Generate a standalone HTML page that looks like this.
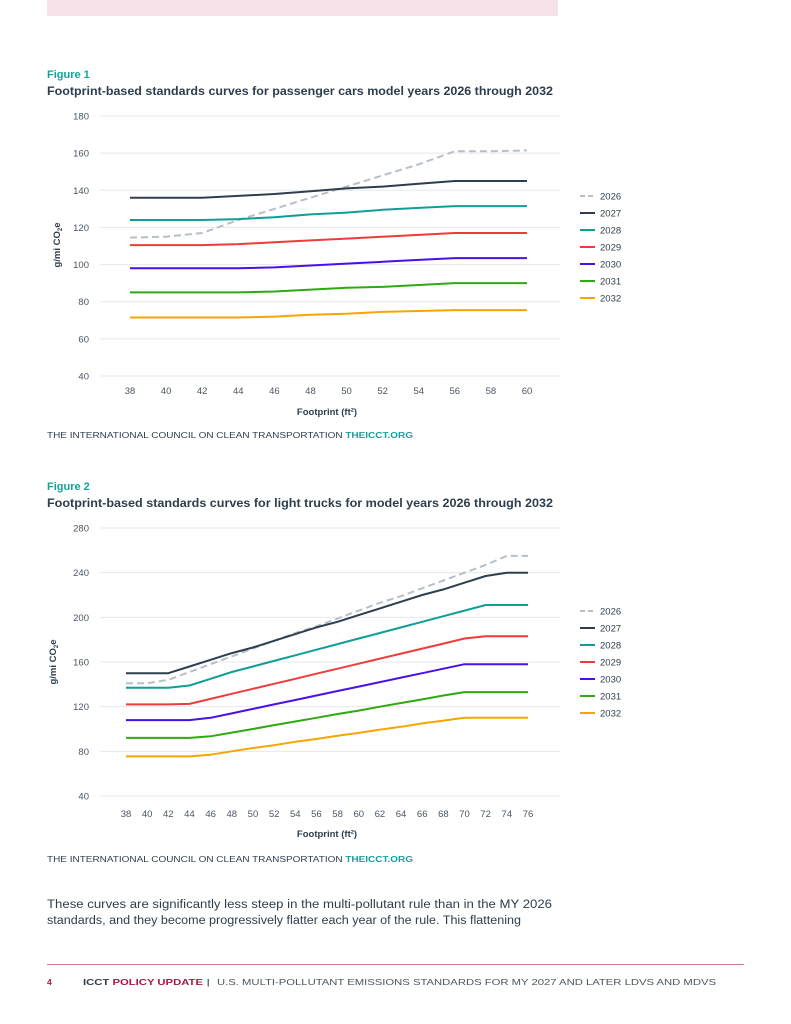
<!DOCTYPE html>
<html><head><meta charset="utf-8"><style>
body{margin:0;background:#fff;}
svg{display:block;font-family:"Liberation Sans",sans-serif;}
</style></head><body>
<svg id="page" width="791" height="1024" viewBox="0 0 791 1024" xmlns="http://www.w3.org/2000/svg">
<rect x="47" y="0" width="511" height="16" fill="#f6e2e9"/>
<text x="47" y="78" font-size="11" font-weight="bold" fill="#13a39b">Figure 1</text>
<text x="47" y="95" font-size="11.5" font-weight="bold" fill="#2e3e4e" textLength="506" lengthAdjust="spacingAndGlyphs">Footprint-based standards curves for passenger cars model years 2026 through 2032</text>
<g id="chart1"></g>
<text x="47" y="438" font-size="8" fill="#2e3e4e" textLength="366" lengthAdjust="spacingAndGlyphs">THE INTERNATIONAL COUNCIL ON CLEAN TRANSPORTATION <tspan font-weight="bold" fill="#13a39b">THEICCT.ORG</tspan></text>

<text x="47" y="490" font-size="11" font-weight="bold" fill="#13a39b">Figure 2</text>
<text x="47" y="507" font-size="11.5" font-weight="bold" fill="#2e3e4e" textLength="506" lengthAdjust="spacingAndGlyphs">Footprint-based standards curves for light trucks for model years 2026 through 2032</text>
<g id="chart2"></g>
<text x="47" y="862" font-size="8" fill="#2e3e4e" textLength="366" lengthAdjust="spacingAndGlyphs">THE INTERNATIONAL COUNCIL ON CLEAN TRANSPORTATION <tspan font-weight="bold" fill="#13a39b">THEICCT.ORG</tspan></text>

<text x="47" y="908" font-size="11.5" fill="#2e3e4e" textLength="505" lengthAdjust="spacingAndGlyphs">These curves are significantly less steep in the multi-pollutant rule than in the MY 2026</text>
<text x="47" y="924" font-size="11.5" fill="#2e3e4e" textLength="474" lengthAdjust="spacingAndGlyphs">standards, and they become progressively flatter each year of the rule. This flattening</text>
<line x1="47" y1="964.5" x2="744" y2="964.5" stroke="#d67a98" stroke-width="1"/>
<text x="47" y="985" font-size="8.5" font-weight="bold" fill="#a6193e">4</text>
<text x="83" y="985" font-size="8.5" font-weight="bold" fill="#2e3e4e" textLength="120" lengthAdjust="spacingAndGlyphs">ICCT <tspan fill="#a6193e">POLICY UPDATE</tspan></text>
<text x="207" y="985" font-size="8.5" font-weight="bold" fill="#2e3e4e">|</text>
<text x="217" y="985" font-size="8.5" fill="#4a5563" textLength="499" lengthAdjust="spacingAndGlyphs">U.S. MULTI-POLLUTANT EMISSIONS STANDARDS FOR MY 2027 AND LATER LDVS AND MDVS</text>
</svg>
<script>
const NS="http://www.w3.org/2000/svg";
const seriesNames=["2026","2027","2028","2029","2030","2031","2032"];
const seriesColors=["#b8bfc8","#2e3e4e","#0f9e96","#ef3b3b","#4a10e8","#2eaa10","#f7a500"];

const c1Footprints=[38,40,42,44,46,48,50,52,54,56,58,60];
const c1Y2026=[114.5,115,117,124,130,136,142,148,154,161,161,161.5];
const c1Y2027=[136,136,136,137,138,139.5,141,142,143.5,145,145,145];
const c1Y2028=[124,124,124,124.5,125.5,127,128,129.5,130.5,131.5,131.5,131.5];
const c1Y2029=[110.5,110.5,110.5,111,112,113,114,115,116,117,117,117];
const c1Y2030=[98,98,98,98,98.5,99.5,100.5,101.5,102.5,103.5,103.5,103.5];
const c1Y2031=[85,85,85,85,85.5,86.5,87.5,88,89,90,90,90];
const c1Y2032=[71.5,71.5,71.5,71.5,72,73,73.5,74.5,75,75.5,75.5,75.5];
const c1YTicks=[40,60,80,100,120,140,160,180];

const c2Footprints=[38,40,42,44,46,48,50,52,54,56,58,60,62,64,66,68,70,72,74,76];
const c2Y2026=[141,141,144,151,158,165,172,179,186,192,199,206,213,219,226,233,240,247,255,255];
const c2Y2027=[150,150,150,156,162,168,173,179,185,191,196,202,208,214,220,225,231,237,240,240];
const c2Y2028=[137,137,137,139,145,151,156,161,166,171,176,181,186,191,196,201,206,211,211,211];
const c2Y2029=[122,122,122,122.5,127,131.5,136,140.5,145,149.5,154,158.5,163,167.5,172,176.5,181,183,183,183];
const c2Y2030=[108,108,108,108,110,114,118,122,126,130,134,138,142,146,150,154,158,158,158,158];
const c2Y2031=[92,92,92,92,93.5,96.8,100,103.5,106.7,110,113.4,116.5,120,123.3,126.5,130,133,133,133,133];
const c2Y2032=[75.5,75.5,75.5,75.5,77,80,83,85.5,88.5,91,94,96.5,99.5,102,105,107.5,110,110,110,110];
const c2YTicks=[40,80,120,160,200,240,280];

function el(tag,attrs,parent){const e=document.createElementNS(NS,tag);for(const k in attrs)e.setAttribute(k,attrs[k]);parent.appendChild(e);return e;}

function drawChart(g,cfg){
  const xS=v=>cfg.x0+(v-cfg.xMin)*(cfg.x1-cfg.x0)/(cfg.xMax-cfg.xMin);
  const yS=v=>cfg.yBot+(v-cfg.yMin)*(cfg.yTop-cfg.yBot)/(cfg.yMax-cfg.yMin);
  cfg.yTicks.forEach(t=>{
    const l=el("line",{x1:100,x2:560,y1:yS(t),y2:yS(t),stroke:"#e6e8eb","stroke-width":1},g);
    
    
    const tx=el("text",{x:89,y:yS(t)+3.5,"font-size":9.5,"text-anchor":"end",fill:"#4a5563"},g);
    tx.textContent=t;
    
    
  });
  cfg.xs.forEach(t=>{
    const tx=el("text",{x:xS(t),y:cfg.xLabelY,"font-size":9.5,"text-anchor":"middle",fill:"#4a5563"},g);
    tx.textContent=t;
    
    
  });
  const xt=el("text",{x:cfg.xTitleX,y:cfg.xTitleY,"font-size":9.5,"font-weight":"bold","text-anchor":"middle",fill:"#2e3e4e"},g);
  xt.textContent="Footprint (ft²)";
  
  
  const yt=el("text",{x:0,y:0,"font-size":9.5,"font-weight":"bold","text-anchor":"middle",fill:"#2e3e4e",transform:`translate(${cfg.yTitleX},${cfg.yTitleY}) rotate(-90)`},g);
  yt.innerHTML='g/mi CO<tspan font-size="6" dy="2">2</tspan><tspan dy="-2">e</tspan>';
  
  
  cfg.series.forEach((vals,i)=>{
    const d=vals.map((v,j)=>(j?"L":"M")+xS(cfg.xs[j]).toFixed(1)+","+yS(v).toFixed(1)).join(" ");
    const p=el("path",{d:d,fill:"none",stroke:seriesColors[i],"stroke-width":2,"stroke-linejoin":"round"},g);
    if(i===0)p.setAttribute("stroke-dasharray","7,4");
    
    
    const ly=cfg.legendY+i*17;
    const ll=el("line",{x1:580,x2:595,y1:ly,y2:ly,stroke:seriesColors[i],"stroke-width":2},g);
    if(i===0)ll.setAttribute("stroke-dasharray","5,3");
    
    
    const lt=el("text",{x:600,y:ly+3.5,"font-size":9.5,fill:"#2e3e4e"},g);
    lt.textContent=seriesNames[i];
    
    
  });
}
drawChart(document.getElementById("chart1"),{xs:c1Footprints,xMin:38,xMax:60,x0:130,x1:527,yMin:40,yMax:180,yBot:376,yTop:116,yTicks:c1YTicks,xLabelY:394,xTitleX:327,xTitleY:415,yTitleX:60,yTitleY:245,legendY:196,series:[c1Y2026,c1Y2027,c1Y2028,c1Y2029,c1Y2030,c1Y2031,c1Y2032]});
drawChart(document.getElementById("chart2"),{xs:c2Footprints,xMin:38,xMax:76,x0:126,x1:528,yMin:40,yMax:280,yBot:796,yTop:528,yTicks:c2YTicks,xLabelY:817,xTitleX:327,xTitleY:837,yTitleX:56,yTitleY:662,legendY:611,series:[c2Y2026,c2Y2027,c2Y2028,c2Y2029,c2Y2030,c2Y2031,c2Y2032]});
</script>
</body></html>
